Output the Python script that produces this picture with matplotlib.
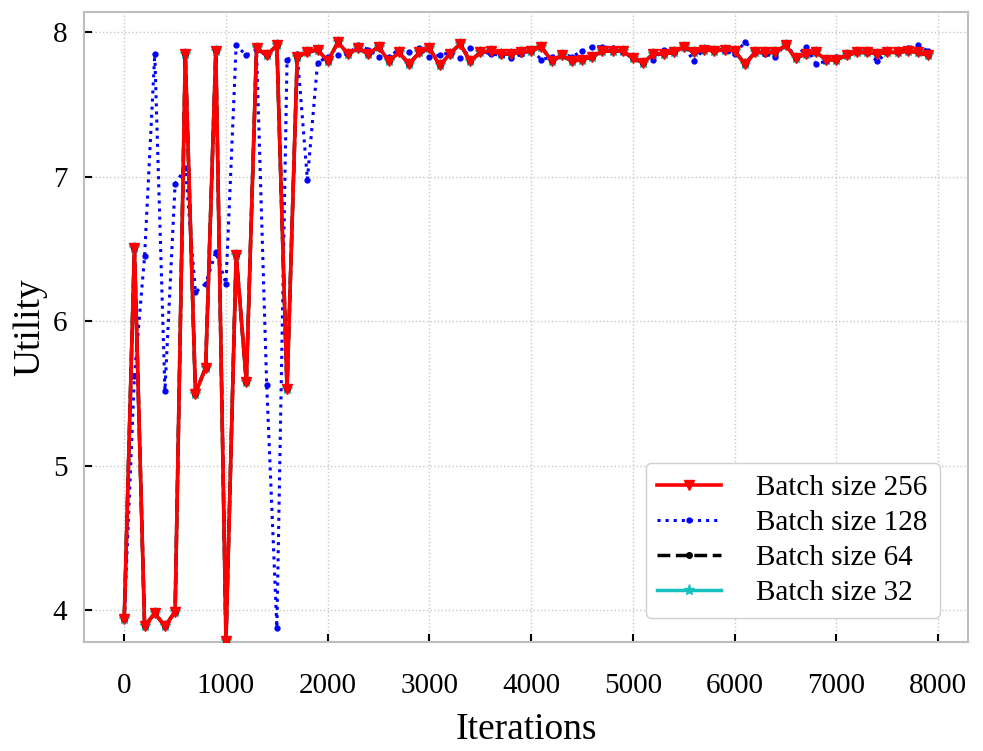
import matplotlib
matplotlib.use('Agg')
import matplotlib.pyplot as plt
import numpy as np

plt.rcParams['font.family'] = ['Liberation Serif', 'DejaVu Serif']
plt.rcParams['mathtext.fontset'] = 'stix'

iterations = np.arange(0, 8000, 100)

utility_256 = [
    3.94, 6.51, 3.89, 3.98, 3.89, 3.99, 7.85, 5.50, 5.68, 7.87,
    3.79, 6.46, 5.58, 7.89, 7.84, 7.91, 5.53, 7.83, 7.86, 7.88,
    7.80, 7.93, 7.85, 7.89, 7.85, 7.90, 7.80, 7.86, 7.78, 7.86,
    7.89, 7.77, 7.85, 7.92, 7.80, 7.86, 7.87, 7.85, 7.85, 7.86,
    7.87, 7.90, 7.80, 7.84, 7.80, 7.81, 7.83, 7.87, 7.87, 7.87,
    7.82, 7.79, 7.85, 7.85, 7.86, 7.90, 7.86, 7.88, 7.87, 7.88,
    7.87, 7.78, 7.86, 7.86, 7.86, 7.91, 7.82, 7.85, 7.86, 7.81,
    7.81, 7.84, 7.86, 7.86, 7.85, 7.86, 7.86, 7.87, 7.86, 7.84,
]
utility_128 = [
    3.94, 5.62, 6.45, 7.85, 5.52, 6.95, 7.06, 6.20, 6.26, 6.48,
    6.26, 7.91, 7.84, 7.88, 5.56, 3.88, 7.81, 7.85, 6.98, 7.79,
    7.83, 7.84, 7.85, 7.91, 7.88, 7.83, 7.83, 7.88, 7.86, 7.89,
    7.83, 7.84, 7.86, 7.82, 7.89, 7.87, 7.85, 7.84, 7.82, 7.85,
    7.88, 7.81, 7.83, 7.85, 7.83, 7.87, 7.90, 7.90, 7.89, 7.86,
    7.82, 7.80, 7.81, 7.88, 7.86, 7.90, 7.80, 7.89, 7.88, 7.87,
    7.85, 7.93, 7.87, 7.85, 7.83, 7.92, 7.83, 7.90, 7.78, 7.80,
    7.83, 7.85, 7.86, 7.86, 7.80, 7.86, 7.86, 7.89, 7.91, 7.87,
]
# batch 64 and 32 lie right under the red curve
utility_64 = list(utility_256)
utility_32 = list(utility_256)

fig = plt.figure(figsize=(9.83, 7.51), dpi=100)
ax = fig.add_axes([0.0855, 0.145, 0.8995, 0.839])

ax.plot(iterations, utility_32, color='#17bfbf', linestyle='-', marker='*',
        markersize=8, linewidth=2.5, label='Batch size 32', zorder=3)
ax.plot(iterations, utility_64, color='black', linestyle='--', marker='.',
        markersize=8, linewidth=2.5, label='Batch size 64', zorder=3)
ax.plot(iterations, utility_128, color='blue', linestyle=':', marker='.',
        markersize=7, linewidth=2.2, label='Batch size 128', zorder=4)
ax.plot(iterations, utility_256, color='red', linestyle='-', marker='v',
        markersize=7, linewidth=2.6, label='Batch size 256', zorder=5)

ax.set_xlim(-395, 8295)
ax.set_ylim(3.78, 8.14)
ax.set_xticks(range(0, 8001, 1000))
ax.set_yticks([4, 5, 6, 7, 8])

ax.grid(True, linestyle=':', color='#c8c8c8', linewidth=1)
ax.set_axisbelow(True)
for s in ax.spines.values():
    s.set_color('#bdbdbd')
    s.set_linewidth(1.5)
ax.tick_params(direction='in', length=6, width=1.5, labelsize=21, color='black')
ax.tick_params(axis='x', pad=22)
ax.tick_params(axis='y', pad=12)

ax.set_xlabel('Iterations', fontsize=27, labelpad=10)
ax.set_ylabel('Utility', fontsize=27, labelpad=4)

handles, labels = ax.get_legend_handles_labels()
order = [3, 2, 1, 0]
ax.legend([handles[i] for i in order], [labels[i] for i in order],
          loc='lower right', fontsize=21, handlelength=2.2, framealpha=1,
          edgecolor='#d0d0d0', borderpad=0.4, labelspacing=0.3,
          handletextpad=1.2, bbox_to_anchor=(0.984, 0.015))

fig.savefig('out.png', dpi=100)
